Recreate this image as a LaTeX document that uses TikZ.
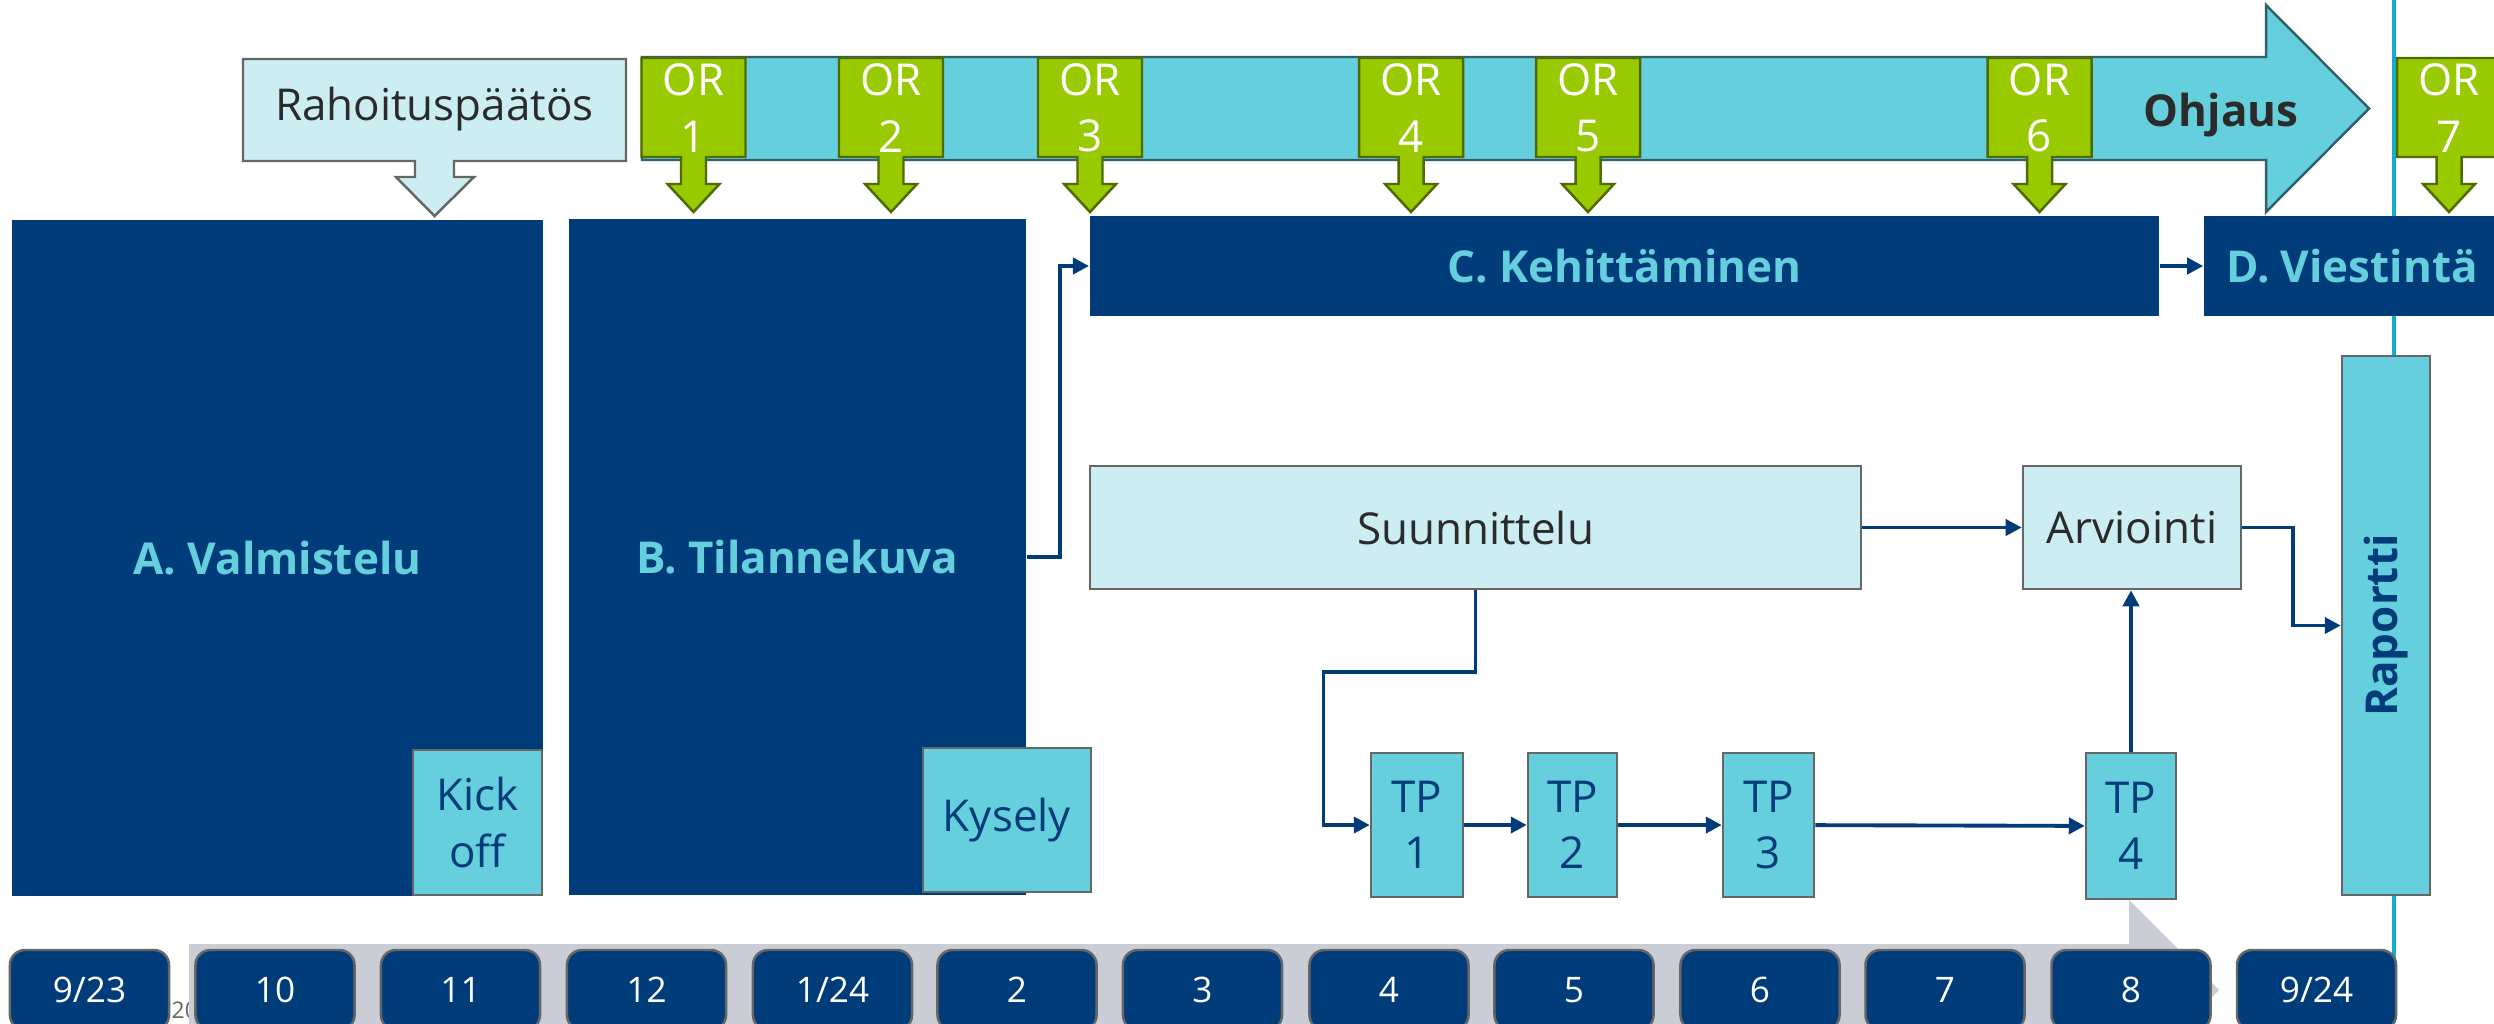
\documentclass[tikz,border=0pt]{standalone}
\usepackage{fontspec}
\setmainfont{Open Sans}
\usepackage{tikz}
\usetikzlibrary{arrows.meta,positioning,calc}
\definecolor{vmblue}{HTML}{003C7A}
\definecolor{vmcyan}{HTML}{66CFDD}
\definecolor{vmpale}{HTML}{CCEEF2}
\definecolor{vmgreen}{HTML}{99C900}
\definecolor{vmgreendark}{HTML}{4E6A00}
\definecolor{vmgrey}{HTML}{666666}
\definecolor{vmteal}{HTML}{31606A}
\definecolor{vmband}{HTML}{CBCDD6}
\definecolor{vmline}{HTML}{14AECB}
\definecolor{vmtext}{HTML}{2B2B2B}
\newcommand{\vmfont}{\fontsize{12.5}{16}\selectfont}
% OR callout: name, x centre, number
\newcommand{\orcallout}[3]{%
  \draw[orshape] (#2-52,58) -- (#2+52,58) -- (#2+52,157) -- (#2+12.5,157) -- (#2+12.5,184)
    -- (#2+26,184) -- (#2,212) -- (#2-26,184) -- (#2-12.5,184) -- (#2-12.5,157) -- (#2-52,157) -- cycle;
  \node[orlabel] (#1) at (#2,108) {OR\\#3};}

\begin{document}
\begin{tikzpicture}[x=0.01cm,y=-0.01cm,>={Triangle[length=1.6mm,width=1.6mm]},
  phase/.style={fill=vmblue,text=vmcyan,font=\vmfont\bfseries,inner sep=0pt},
  lightbox/.style={fill=vmpale,draw=vmgrey,line width=0.7pt,text=vmtext,font=\vmfont,inner sep=0pt},
  cyanbox/.style={fill=vmcyan,draw=vmgrey,line width=0.7pt,text=vmblue,font=\vmfont,align=center,inner sep=0pt},
  orshape/.style={fill=vmgreen,draw=vmgreendark,line width=0.7pt},
  orlabel/.style={text=white,font=\vmfont,align=center,inner sep=0pt},
  month/.style={fill=vmblue,draw=vmgrey,line width=0.7pt,rounded corners=0.15cm,text=white,
    font=\fontsize{10}{12}\selectfont,minimum width=1.59cm,minimum height=0.8cm,inner sep=0pt},
  flow/.style={->,draw=vmblue,line width=1.1pt}]
  \clip (0,0) rectangle (2494,1023);
  \fill[white] (0,0) rectangle (2494,1023);

  % timeline at the bottom
  \node[anchor=base west,text=vmgrey,font=\fontsize{6.5}{8}\selectfont,inner sep=0pt] (year) at (171,1018) {2023};
  \fill[vmband] (189,944) -- (2129,944) -- (2129,900) -- (2219,990) -- (2170,1040) -- (189,1040) -- cycle;
  \draw[vmline,line width=0.9pt] (2394,0) -- (2394,1023);
  \node[month] (m1) at (89.5,990) {9/23};
  \node[month] (m2) at (275,990) {10};
  \node[month] (m3) at (460.5,990) {11};
  \node[month] (m4) at (646.5,990) {12};
  \node[month] (m5) at (832.5,990) {1/24};
  \node[month] (m6) at (1017,990) {2};
  \node[month] (m7) at (1202.5,990) {3};
  \node[month] (m8) at (1389,990) {4};
  \node[month] (m9) at (1574,990) {5};
  \node[month] (m10) at (1760,990) {6};
  \node[month] (m11) at (1945,990) {7};
  \node[month] (m12) at (2131,990) {8};
  \node[month] (m13) at (2316.5,990) {9/24};

  % steering arrow and OR meetings
  \draw[fill=vmcyan,draw=vmteal,line width=0.7pt] (642,57) -- (2266,57) -- (2266,5) -- (2369,108.5)
    -- (2266,212) -- (2266,160) -- (642,160) -- cycle;
  \node[anchor=base,text=vmtext,font=\vmfont\bfseries,inner sep=0pt] (ohjaus) at (2221,126) {Ohjaus};
  \draw[fill=vmpale,draw=vmgrey,line width=0.7pt] (243,59) -- (626,59) -- (626,161) -- (454,161) -- (454,177)
    -- (474,177) -- (434.5,216) -- (396,177) -- (415,177) -- (415,161) -- (243,161) -- cycle;
  \node[anchor=base,text=vmtext,font=\vmfont,inner sep=0pt] (rahoitus) at (434.5,120) {Rahoituspäätös};
  \orcallout{or1}{693.5}{1}
  \orcallout{or2}{891}{2}
  \orcallout{or3}{1090}{3}
  \orcallout{or4}{1411}{4}
  \orcallout{or5}{1588}{5}
  \orcallout{or6}{2039.5}{6}
  \orcallout{or7}{2449}{7}

  % phases
  \node[phase,minimum width=5.31cm,minimum height=6.76cm] (valm) at (277.5,558) {A. Valmistelu};
  \node[phase,minimum width=4.57cm,minimum height=6.76cm] (tilanne) at (797.5,557) {B. Tilannekuva};
  \node[phase,minimum width=10.69cm,minimum height=1cm] (kehit) at (1624.5,266) {C. Kehittäminen};
  \node[phase,minimum width=2.96cm,minimum height=1cm] (viest) at (2352,266) {D. Viestintä};
  \node[cyanbox,minimum width=1.29cm,minimum height=1.45cm] (kickoff) at (477.5,822.5) {Kick\\off};
  \node[cyanbox,minimum width=1.68cm,minimum height=1.44cm] (kysely) at (1007,820) {Kysely};

  % development work
  \node[lightbox,minimum width=7.71cm,minimum height=1.23cm] (suunn) at (1475.5,527.5) {Suunnittelu};
  \node[lightbox,minimum width=2.18cm,minimum height=1.23cm] (arvi) at (2132,527.5) {Arviointi};
  \node[cyanbox,minimum width=0.92cm,minimum height=1.44cm] (tp1) at (1417,825) {TP\\1};
  \node[cyanbox,minimum width=0.89cm,minimum height=1.44cm] (tp2) at (1572.5,825) {TP\\2};
  \node[cyanbox,minimum width=0.91cm,minimum height=1.44cm] (tp3) at (1768.5,825) {TP\\3};
  \node[cyanbox,minimum width=0.90cm,minimum height=1.46cm] (tp4) at (2131,826) {TP\\4};
  \node[cyanbox,font=\vmfont\bfseries,minimum width=0.88cm,minimum height=5.39cm] (raportti) at (2386,625.5) {};
  \node[rotate=90,text=vmblue,font=\vmfont\bfseries] (raporttiteksti) at (raportti) {Raportti};

  \draw[flow] (tilanne.east) -- ++(33,0) |- (kehit.west);
  \draw[flow] (kehit) -- (viest);
  \draw[flow] (suunn) -- (arvi);
  \draw[flow] (suunn.south) -- ++(0,82) -- ++(-152,0) |- (tp1.west);
  \draw[flow] (tp1) -- (tp2);
  \draw[flow] (tp2) -- (tp3);
  \draw[flow] (tp3) -- (tp4);
  \draw[flow] (tp4.north) -- (tp4.north |- arvi.south);
  \draw[flow] (arvi.east) -- ++(51,0) |- (raportti.west);
\end{tikzpicture}
\end{document}
